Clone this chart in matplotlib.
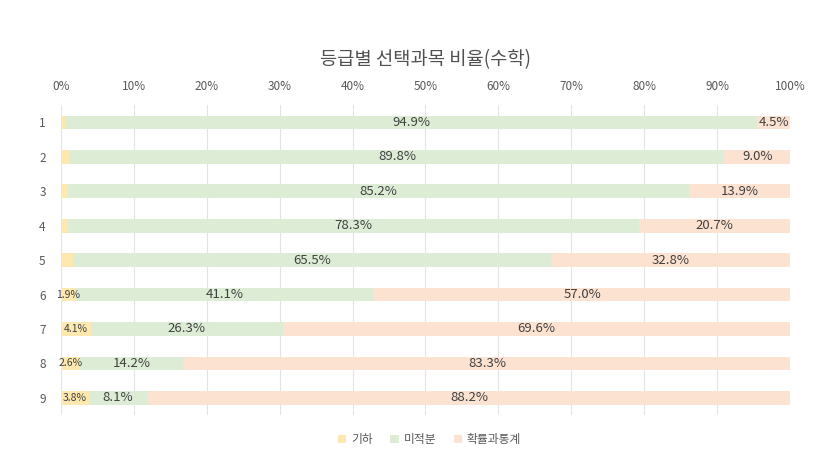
import matplotlib
matplotlib.use('Agg')
import matplotlib.pyplot as plt
import numpy as np

plt.rcParams['font.family'] = ['Noto Sans CJK KR', 'DejaVu Sans']

# data
grades = ['1', '2', '3', '4', '5', '6', '7', '8', '9']
geometry = [0.6, 1.2, 0.9, 1.0, 1.7, 1.9, 4.1, 2.6, 3.8]
calculus = [94.9, 89.8, 85.2, 78.3, 65.5, 41.1, 26.3, 14.2, 8.1]
stats = [4.5, 9.0, 13.9, 20.7, 32.8, 57.0, 69.6, 83.3, 88.2]
geo_shown = [False, False, False, False, False, True, True, True, True]
series_names = ['기하', '미적분', '확률과통계']
colors = ['#FDE9B0', '#DDEDD5', '#FCE2D1']

fig = plt.figure(figsize=(8.26, 4.76), dpi=100)
ax = fig.add_axes([0.0738, 0.128, 0.8826, 0.651])

y = np.arange(len(grades))
h = 0.4
left = np.zeros(len(grades))
for vals, name, c in zip([geometry, calculus, stats], series_names, colors):
    ax.barh(y, vals, left=left, height=h, color=c, label=name, zorder=2)
    for i, v in enumerate(vals):
        cx = left[i] + v / 2
        if name == '기하':
            if geo_shown[i]:
                ax.text(cx, y[i], f'{v:.1f}%', ha='center', va='center',
                        fontsize=7.5, color='#404040', zorder=3)
        else:
            ax.text(cx, y[i], f'{v:.1f}%', ha='center', va='center',
                    fontsize=9.5, color='#404040', zorder=3)
    left += np.array(vals)

ax.set_xlim(0, 100)
ax.set_ylim(len(grades) - 0.5, -0.5)
ax.set_yticks(y)
ax.set_yticklabels(grades)
ax.set_xticks(np.arange(0, 101, 10))
ax.set_xticklabels([f'{t}%' for t in range(0, 101, 10)])
ax.xaxis.tick_top()
ax.tick_params(axis='both', length=0, labelsize=8.5, colors='#595959')
ax.tick_params(axis='x', pad=9)
ax.tick_params(axis='y', pad=11)
for s in ax.spines.values():
    s.set_visible(False)
ax.grid(axis='x', color='#E3E3E3', linewidth=0.8, zorder=0)

ax.set_title('등급별 선택과목 비율(수학)', fontsize=13.5, color='#505050',
             fontweight='medium', pad=29)

fig.legend(loc='center', ncol=3, bbox_to_anchor=(0.52, 0.076), frameon=False,
           fontsize=8.5, handlelength=0.7, handleheight=0.7, handletextpad=0.4,
           columnspacing=1.5, labelcolor='#595959')

plt.savefig('out.png', dpi=100)
